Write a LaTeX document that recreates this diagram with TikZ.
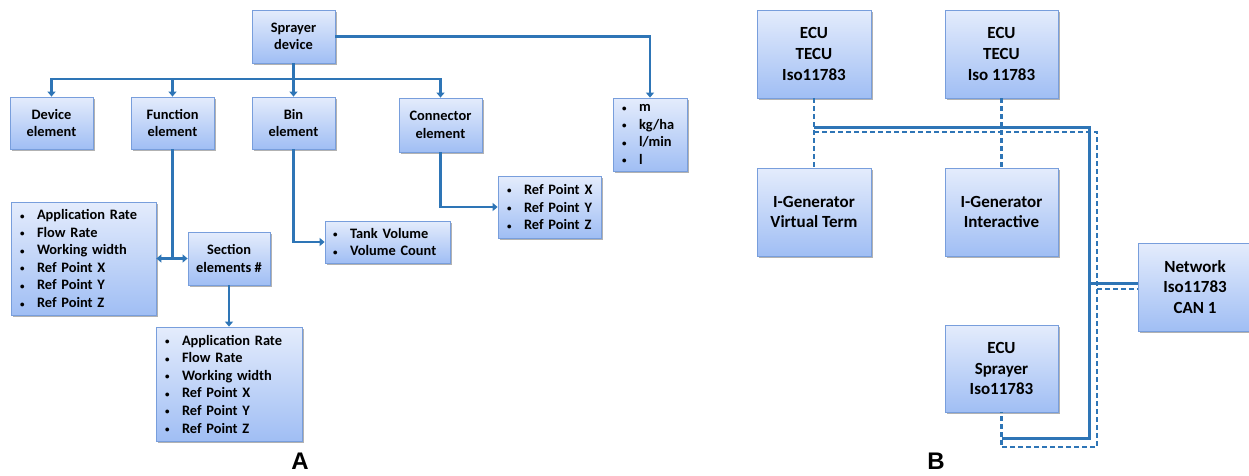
\documentclass[tikz,border=0pt]{standalone}
\usepackage{fontspec}
\setmainfont{Carlito}
\newfontfamily\labfont{Liberation Sans}
\usetikzlibrary{arrows.meta,shadows}
\definecolor{boxtop}{RGB}{228,236,252}
\definecolor{boxbot}{RGB}{160,190,244}
\definecolor{boxline}{RGB}{120,158,220}
\definecolor{conn}{RGB}{46,117,182}
\newcommand{\bi}[1]{\mbox{\makebox[17pt][l]{\raisebox{0.5pt}{\fontsize{9}{9}\selectfont\textbullet}}#1}}
\hbadness=10000 \hfuzz=50pt
\begin{document}
\begin{tikzpicture}[x=1pt,y=-1pt,
  box/.style={draw=boxline, line width=0.8pt, top color=boxtop, bottom color=boxbot,
    drop shadow={shadow xshift=1.5pt,shadow yshift=-1.5pt,fill=black,opacity=0.3},
    inner sep=0pt, align=center, font=\fontsize{14.4}{17.6}\selectfont\bfseries},
  bigbox/.style={box, minimum width=114pt, minimum height=88pt, font=\fontsize{17}{20.7}\selectfont\bfseries},
  listbox/.style={box, inner xsep=9pt, align=left},
  line/.style={draw=conn, line width=2.9pt},
  arr/.style={line, -{Triangle[width=8pt,length=5pt]}},
  solidb/.style={draw=conn, line width=3pt},
  dashb/.style={draw=conn, line width=2.3pt, dash pattern=on 5pt off 3pt},
  lab/.style={font=\labfont\bfseries\fontsize{24}{24}\selectfont, inner sep=0pt}]
\useasboundingbox (0,0) rectangle (1249,475);
% ---------- A ----------
\node[box, minimum width=83pt, minimum height=53pt] (sp) at (293.5,36.5) {Sprayer\\device};
\node[box, minimum width=83pt, minimum height=52pt] (dev) at (51.5,123) {Device\\element};
\node[box, minimum width=83pt, minimum height=52pt] (fn) at (172.5,123) {Function\\element};
\node[box, minimum width=83pt, minimum height=52pt] (bin) at (293.5,123) {Bin\\element};
\node[box, minimum width=83pt, minimum height=54pt] (con) at (440.5,125) {Connector\\element};
\node[listbox, text width=56pt, minimum height=73pt] (mm) at (650,134.5) {\bi{m}\\\bi{kg/ha}\\\bi{l/min}\\\bi{l}};
\node[listbox, text width=85pt, minimum height=62pt] (refl) at (549.5,207) {\bi{Ref Point X}\\\bi{Ref Point Y}\\\bi{Ref Point Z}};
\node[listbox, text width=109pt, minimum height=42pt, inner xsep=8pt] (tank) at (387.5,242) {\bi{Tank Volume}\\\bi{Volume Count}};
\node[listbox, text width=127pt, minimum height=113pt] (list1) at (83.5,258.5) {\bi{Application Rate}\\\bi{Flow Rate}\\\bi{Working width}\\\bi{Ref Point X}\\\bi{Ref Point Y}\\\bi{Ref Point Z}};
\node[box, minimum width=82pt, minimum height=53pt] (secl) at (229,258.5) {Section\\elements \#};
\node[listbox, text width=128pt, minimum height=114pt] (list2) at (229,384) {\bi{Application Rate}\\\bi{Flow Rate}\\\bi{Working width}\\\bi{Ref Point X}\\\bi{Ref Point Y}\\\bi{Ref Point Z}};
\coordinate (bus) at (293.5,79);
\draw[line] (sp.south) -- (bus);
\draw[arr] (bus) -| (dev.north);
\draw[arr] (bus) -| (fn.north);
\draw[arr] (bus) -- (bin.north);
\draw[arr] (bus) -| (con.north);
\draw[arr] (sp.east) -| (mm.north);
\coordinate (fj) at (fn.south |- secl.west);
\draw[line] (fn.south) -- (fj);
\draw[arr] (fj) -- (list1.east);
\draw[arr] (fj) -- (secl.west);
\draw[arr] (secl.south) -- (list2.north);
\draw[arr] (bin.south) |- (tank.west);
\draw[arr] (con.south) |- (refl.west);
\node[lab] (labA) at (300,461) {A};
% ---------- B ----------
\node[bigbox] (e1) at (814,54) {ECU\\TECU\\Iso11783};
\node[bigbox, minimum width=113pt] (e2) at (1001.5,54) {ECU\\TECU\\Iso 11783};
\node[bigbox] (g1) at (814,212) {I-Generator\\Virtual Term};
\node[bigbox, minimum width=113pt] (g2) at (1001.5,212) {I-Generator\\Interactive};
\node[bigbox] (net) at (1195,287) {Network\\Iso11783\\CAN 1};
\node[bigbox, minimum width=113pt, minimum height=87pt] (sp2) at (1001.5,368.5) {ECU\\Sprayer\\Iso11783};
\draw[dashb] (e1.south) -- (g1.north);
\draw[dashb] (e2.south) -- (g2.north);
\coordinate (sTL) at (814,127);
\coordinate (sTR) at (1089,127);
\coordinate (sBR) at (1089,438);
\coordinate (sBL) at (1001.5,438);
\coordinate (sN) at (1089,283);
\coordinate (dTL) at (814,132);
\coordinate (dTR) at (1097,132);
\coordinate (dBR) at (1097,447);
\coordinate (dBL) at (1001.5,447);
\coordinate (dN) at (1097,289);
\draw[solidb] (sTL) -- (sTR) -- (sBR) -- (sBL);
\draw[solidb] (sN) -- (net.west |- sN);
\draw[dashb] (dTL) -- (dTR) -- (dBR) -- (dBL) -- (sp2.south);
\draw[dashb] (dN) -- (net.west |- dN);
\node[lab] (labB) at (936,461) {B};
\end{tikzpicture}
\end{document}
